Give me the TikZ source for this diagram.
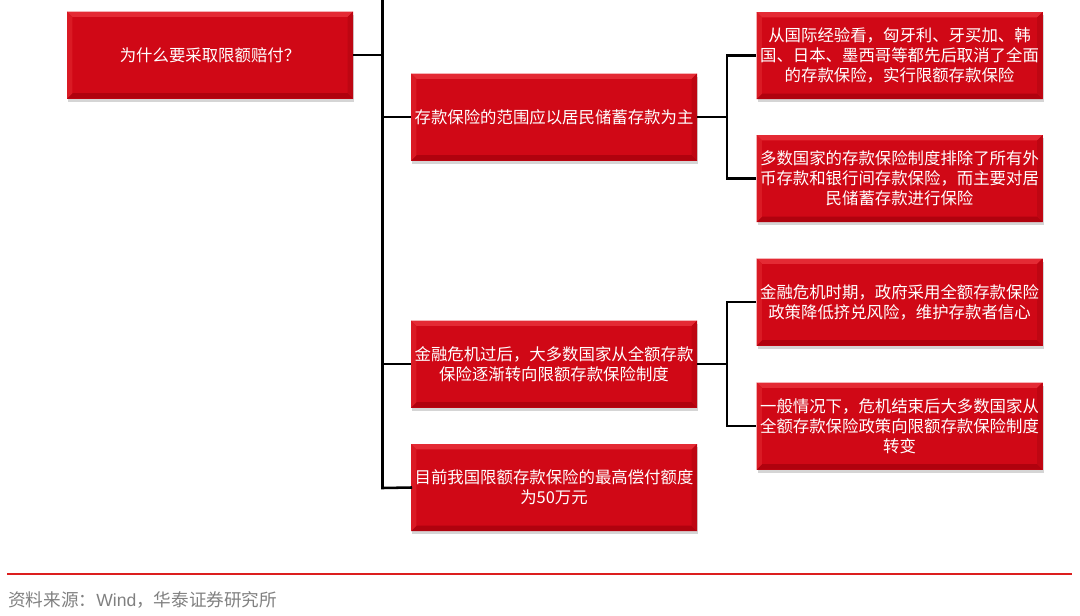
\documentclass[tikz,border=0pt]{standalone}
\usepackage{fontspec}
\setmainfont{Liberation Sans}
\newfontfamily\cjk{Noto Sans CJK SC}
\usetikzlibrary{shadows}
\definecolor{boxred}{RGB}{208,8,22}
\definecolor{bevtop}{RGB}{228,42,52}
\definecolor{bevleft}{RGB}{218,26,36}
\definecolor{bevright}{RGB}{190,6,18}
\definecolor{bevbot}{RGB}{176,2,14}
\definecolor{footgray}{RGB}{128,128,128}
\definecolor{footred}{RGB}{220,30,30}
\def\pb{path picture bounding box}
\def\bv{4pt}
\tikzset{
  redbox/.style={rectangle, fill=boxred, text=white, align=center,
    minimum width=214.5pt, minimum height=65.25pt, inner sep=0pt,
    font=\cjk\fontsize{12.3}{15}\selectfont,
    drop shadow={shadow xshift=1pt, shadow yshift=-2.5pt, opacity=0.3, fill=black!55},
    path picture={
      \fill[bevtop] (\pb.north west) -- (\pb.north east) -- ([shift={(-\bv,-\bv)}]\pb.north east) -- ([shift={(\bv,-\bv)}]\pb.north west) -- cycle;
      \fill[bevbot] (\pb.south west) -- (\pb.south east) -- ([shift={(-\bv,\bv)}]\pb.south east) -- ([shift={(\bv,\bv)}]\pb.south west) -- cycle;
      \fill[bevleft] (\pb.north west) -- (\pb.south west) -- ([shift={(\bv,\bv)}]\pb.south west) -- ([shift={(\bv,-\bv)}]\pb.north west) -- cycle;
      \fill[bevright] (\pb.north east) -- (\pb.south east) -- ([shift={(-\bv,\bv)}]\pb.south east) -- ([shift={(-\bv,-\bv)}]\pb.north east) -- cycle;
    }},
  conn/.style={draw=black, line width=1.9pt},
}
\begin{document}
\begin{tikzpicture}[x=0.75pt,y=-0.75pt]
\useasboundingbox (0,0) rectangle (1080,615);
% nodes
\node[redbox] (A) at (210,55) {为什么要采取限额赔付？};
\node[redbox] (B) at (554,117) {存款保险的范围应以居民储蓄存款为主};
\node[redbox] (C) at (554,364) {金融危机过后，大多数国家从全额存款\\保险逐渐转向限额存款保险制度};
\node[redbox] (D) at (554,487.5) {目前我国限额存款保险的最高偿付额度\\为50万元};
\node[redbox] (E) at (899.5,55.5) {从国际经验看，匈牙利、牙买加、韩\\国、日本、墨西哥等都先后取消了全面\\的存款保险，实行限额存款保险};
\node[redbox] (F) at (899.5,178.5) {多数国家的存款保险制度排除了所有外\\币存款和银行间存款保险，而主要对居\\民储蓄存款进行保险};
\node[redbox] (G) at (899.5,302) {金融危机时期，政府采用全额存款保险\\政策降低挤兑风险，维护存款者信心};
\node[redbox] (H) at (899.5,426) {一般情况下，危机结束后大多数国家从\\全额存款保险政策向限额存款保险制度\\转变};
% trunk
\coordinate (ttop) at (382.5,0);
\coordinate (tbot) at (382.5,488);
\coordinate (jB) at (727,117);
\coordinate (jC) at (727,364);
\draw[conn, line cap=rect] (ttop) -- (tbot -| ttop) -- (D.west);
\draw[conn] (A.east) -- (A.east -| ttop);
\draw[conn] (B.west) -- (B.west -| ttop);
\draw[conn] (C.west) -- (C.west -| ttop);
% branch B
\draw[conn] (B.east) -- (jB);
\draw[conn] (E.west) -- (E.west -| jB) -- (F.west -| jB) -- (F.west);
% branch C
\draw[conn] (C.east) -- (jC);
\draw[conn] (G.west) -- (G.west -| jC) -- (H.west -| jC) -- (H.west);
% footer
\coordinate (fl) at (7,574);
\coordinate (fr) at (1072,574);
\draw[footred, line width=1.3pt] (fl) -- (fr);
\node[anchor=west, inner sep=0pt, text=footgray, font=\cjk\fontsize{13.2}{15}\selectfont] (src) at (8,600) {资料来源：\fontspec{Liberation Sans}Wind\cjk，华泰证券研究所};
\end{tikzpicture}
\end{document}
